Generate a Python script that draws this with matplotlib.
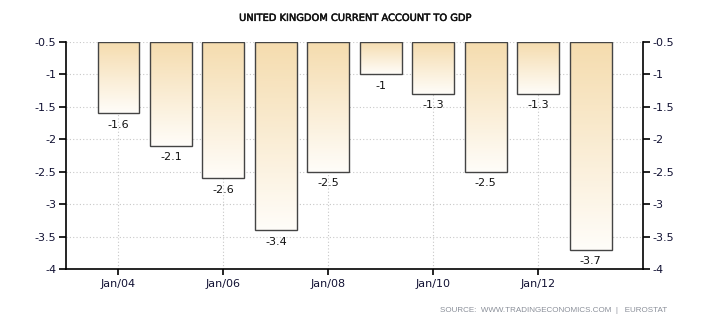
import numpy as np
import matplotlib
matplotlib.use("Agg")
import matplotlib.pyplot as plt
import matplotlib.patheffects as pe
from matplotlib.colors import LinearSegmentedColormap

years = [2004, 2005, 2006, 2007, 2008, 2009, 2010, 2011, 2012, 2013]
values = [-1.6, -2.1, -2.6, -3.4, -2.5, -1.0, -1.3, -2.5, -1.3, -3.7]
yticks = [-0.5, -1, -1.5, -2, -2.5, -3, -3.5, -4]
ytick_labels = ["-0.5", "-1", "-1.5", "-2", "-2.5", "-3", "-3.5", "-4"]
xtick_years = [2004, 2006, 2008, 2010, 2012]
xtick_labels = ["Jan/04", "Jan/06", "Jan/08", "Jan/10", "Jan/12"]

base = -0.5
bar_width = 0.8

fig = plt.figure(figsize=(7.1, 3.25), dpi=100)
ax = fig.add_axes([0.093, 0.1723, 0.8127, 0.6985])
ax.set_xlim(2003, 2014)
ax.set_ylim(-4, -0.5)

cmap = LinearSegmentedColormap.from_list("wheat", ["#fffdf9", "#f5dcae"])
grad = np.linspace(0, 1, 256).reshape(-1, 1)

bars = ax.bar(years, [v - base for v in values], bottom=base, width=bar_width,
              facecolor="none", edgecolor="#444444", linewidth=1.0, zorder=3)
for bar, v in zip(bars, values):
    x0 = bar.get_x()
    x1 = x0 + bar.get_width()
    im = ax.imshow(grad, cmap=cmap, origin="lower", aspect="auto",
                   extent=[x0, x1, v, base], zorder=2, interpolation="bilinear")
    im.set_clip_path(bar)
    ax.text(bar.get_x() + bar.get_width() / 2, v - 0.1, f"{v:g}",
            ha="center", va="top", fontsize=8, color="#111111", zorder=4)

ax.set_yticks(yticks)
ax.set_yticklabels(ytick_labels)
ax.set_xticks(xtick_years)
ax.set_xticklabels(xtick_labels)
ax.grid(True, color="#c8c8c8", linestyle=(0, (1, 2)), linewidth=0.8, zorder=0)
ax.set_axisbelow(True)

ax.spines["top"].set_visible(False)
for side in ["left", "right", "bottom"]:
    ax.spines[side].set_color("black")
    ax.spines[side].set_linewidth(1.2)

ax.tick_params(axis="y", which="both", left=True, right=True, labelleft=True,
               labelright=True, direction="out", length=5, width=1.2,
               labelsize=8, colors="black", pad=2)
ax.tick_params(axis="x", direction="out", length=4, width=1.2, labelsize=8,
               colors="black", pad=3)
for lbl in ax.get_yticklabels() + ax.get_xticklabels():
    lbl.set_color("#111133")

fig.text(0.5, 0.945, "UNITED KINGDOM CURRENT ACCOUNT TO GDP", ha="center",
         va="center", fontsize=7.1, color="#111111",
         path_effects=[pe.withStroke(linewidth=0.35, foreground="#111111")])
fig.text(0.94, 0.045, "SOURCE:  WWW.TRADINGECONOMICS.COM  |   EUROSTAT",
         ha="right", va="center", fontsize=5.8, color="#8a8f99",
         family="Liberation Sans")

fig.savefig("out.png", dpi=100, facecolor="white")
